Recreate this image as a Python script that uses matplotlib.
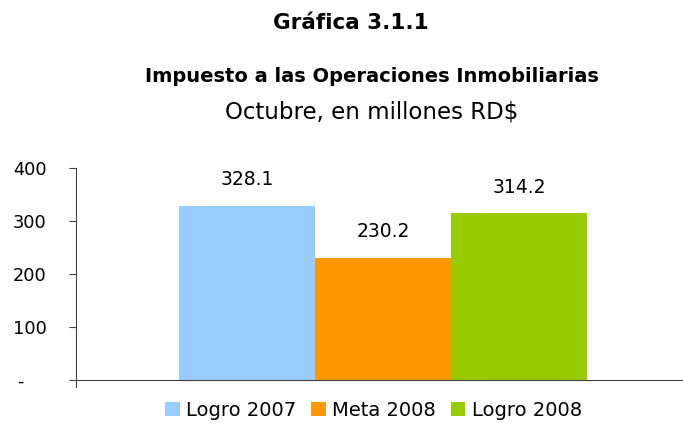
import matplotlib.pyplot as plt
import numpy as np

plt.rcParams['font.family'] = ['DejaVu Sans']

series = ['Logro 2007', 'Meta 2008', 'Logro 2008']
values = [328.1, 230.2, 314.2]
colors = ['#99CCFF', '#FF9900', '#99CC00']
yticks = [0, 100, 200, 300, 400]
ytick_labels = ['-\u2007\u2007', '100', '200', '300', '400']

fig = plt.figure(figsize=(6.83, 4.29), dpi=100)
ax = fig.add_axes([76 / 683, 1 - 380 / 429, 607 / 683, 212 / 429])

width = 136 / 607
offsets = (np.arange(len(values)) - 1) * width + 0.006
for i in range(len(values)):
    ax.bar(offsets[i], values[i], width=width, color=colors[i], label=series[i])
    ax.text(offsets[i], values[i] + 32, f'{values[i]:.1f}', ha='center', va='bottom', fontsize=13.5)

ax.set_xlim(-0.5, 0.5)
ax.set_ylim(0, 400)
ax.set_yticks(yticks)
ax.set_yticklabels(ytick_labels, fontsize=12.8)
ax.set_xticks([])
ax.spines['top'].set_visible(False)
ax.spines['right'].set_visible(False)
ax.spines['left'].set_color('#404040')
ax.spines['bottom'].set_color('#404040')
ax.spines['left'].set_bounds(-14, 400)
ax.tick_params(axis='y', direction='out', length=5, pad=16, color='#404040')

fig.text(0.513, 1 - 23 / 429, 'Gráfica 3.1.1', ha='center', va='center', fontsize=15.5, fontweight='bold')
fig.text(0.5445, 1 - 76 / 429, 'Impuesto a las Operaciones Inmobiliarias', ha='center', va='center', fontsize=14, fontweight='bold')
fig.text(0.5445, 1 - 112 / 429, 'Octubre, en millones RD$', ha='center', va='center', fontsize=16.5)

fig.legend(loc='center', bbox_to_anchor=(0.547, 1 - 410 / 429), ncol=3, frameon=False, fontsize=14,
           handlelength=0.75, handleheight=0.75, handletextpad=0.35, columnspacing=0.75)

plt.savefig('out.png', dpi=100)
